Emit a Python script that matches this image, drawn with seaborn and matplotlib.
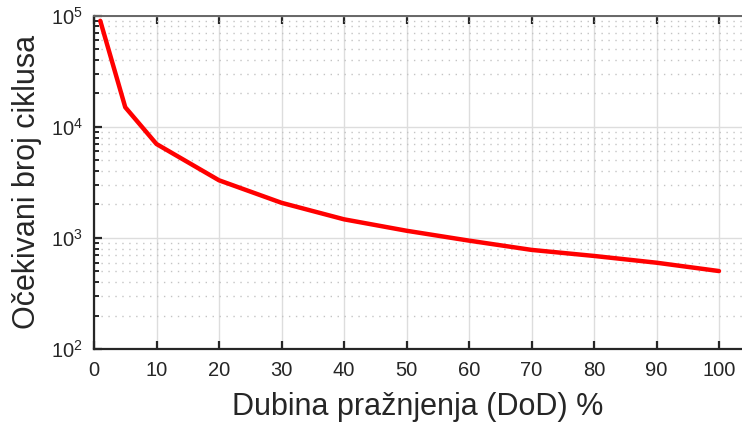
import numpy as np
import pandas as pd
import matplotlib
matplotlib.use("Agg")
import matplotlib.pyplot as plt
import matplotlib.ticker as mticker
import seaborn as sns

# Data
dod = [1, 5, 10, 20, 30, 40, 50, 60, 70, 80, 90, 100]
cycles = [90000, 15000, 7000, 3300, 2070, 1470, 1160, 945, 780, 688, 598, 503]

df = pd.DataFrame({"dod": dod, "cycles": cycles})

sns.set_style("white")
plt.rcParams["font.family"] = ["Liberation Sans", "DejaVu Sans"]
plt.rcParams["mathtext.fontset"] = "custom"
plt.rcParams["mathtext.rm"] = "Liberation Sans"
plt.rcParams["mathtext.it"] = "Liberation Sans:italic"
plt.rcParams["mathtext.bf"] = "Liberation Sans:bold"

fig = plt.figure(figsize=(7.42, 4.28), dpi=100)
ax = fig.add_axes([94 / 742, 79 / 428, 648 / 742, 333.3 / 428])

sns.lineplot(data=df, x="dod", y="cycles", color="#ff0000", linewidth=3.2, ax=ax)

ax.set_yscale("log")
ax.set_ylim(1e2, 1e5)
ax.set_xlim(0, 100 * 648 / 625)
ax.set_xticks(np.arange(0, 101, 10))

ax.yaxis.set_major_locator(mticker.LogLocator(base=10, numticks=10))
ax.yaxis.set_minor_locator(mticker.LogLocator(base=10, subs=np.arange(2, 10), numticks=10))
ax.yaxis.set_minor_formatter(mticker.NullFormatter())
ax.yaxis.set_major_formatter(mticker.LogFormatterMathtext())

ax.grid(which="major", axis="both", color="#dddddd", linewidth=1.0, linestyle="-")
ax.grid(which="minor", axis="y", color="#c4c4c4", linewidth=1.0, linestyle=(0, (1, 4)))
ax.set_axisbelow(True)

for side in ["left", "bottom"]:
    ax.spines[side].set_color("#262626")
    ax.spines[side].set_linewidth(1.6)
ax.spines["top"].set_color("#666666")
ax.spines["top"].set_linewidth(1.4)
ax.spines["right"].set_visible(False)

ax.tick_params(axis="x", which="major", direction="in", length=6, width=1.6,
               top=True, bottom=True, labelsize=14.5, colors="#262626", pad=9)
ax.tick_params(axis="y", which="major", direction="in", length=6, width=1.6,
               left=True, right=False, labelsize=14.5, colors="#262626", pad=8)
ax.tick_params(axis="y", which="minor", direction="in", length=3.5, width=1.4,
               left=True, right=False, colors="#262626")

ax.set_xlabel("Dubina pražnjenja (DoD) %", fontsize=22, color="#262626", labelpad=8)
ax.set_ylabel("Očekivani broj ciklusa", fontsize=22, color="#262626", labelpad=6)

fig.savefig("out.png", dpi=100)
